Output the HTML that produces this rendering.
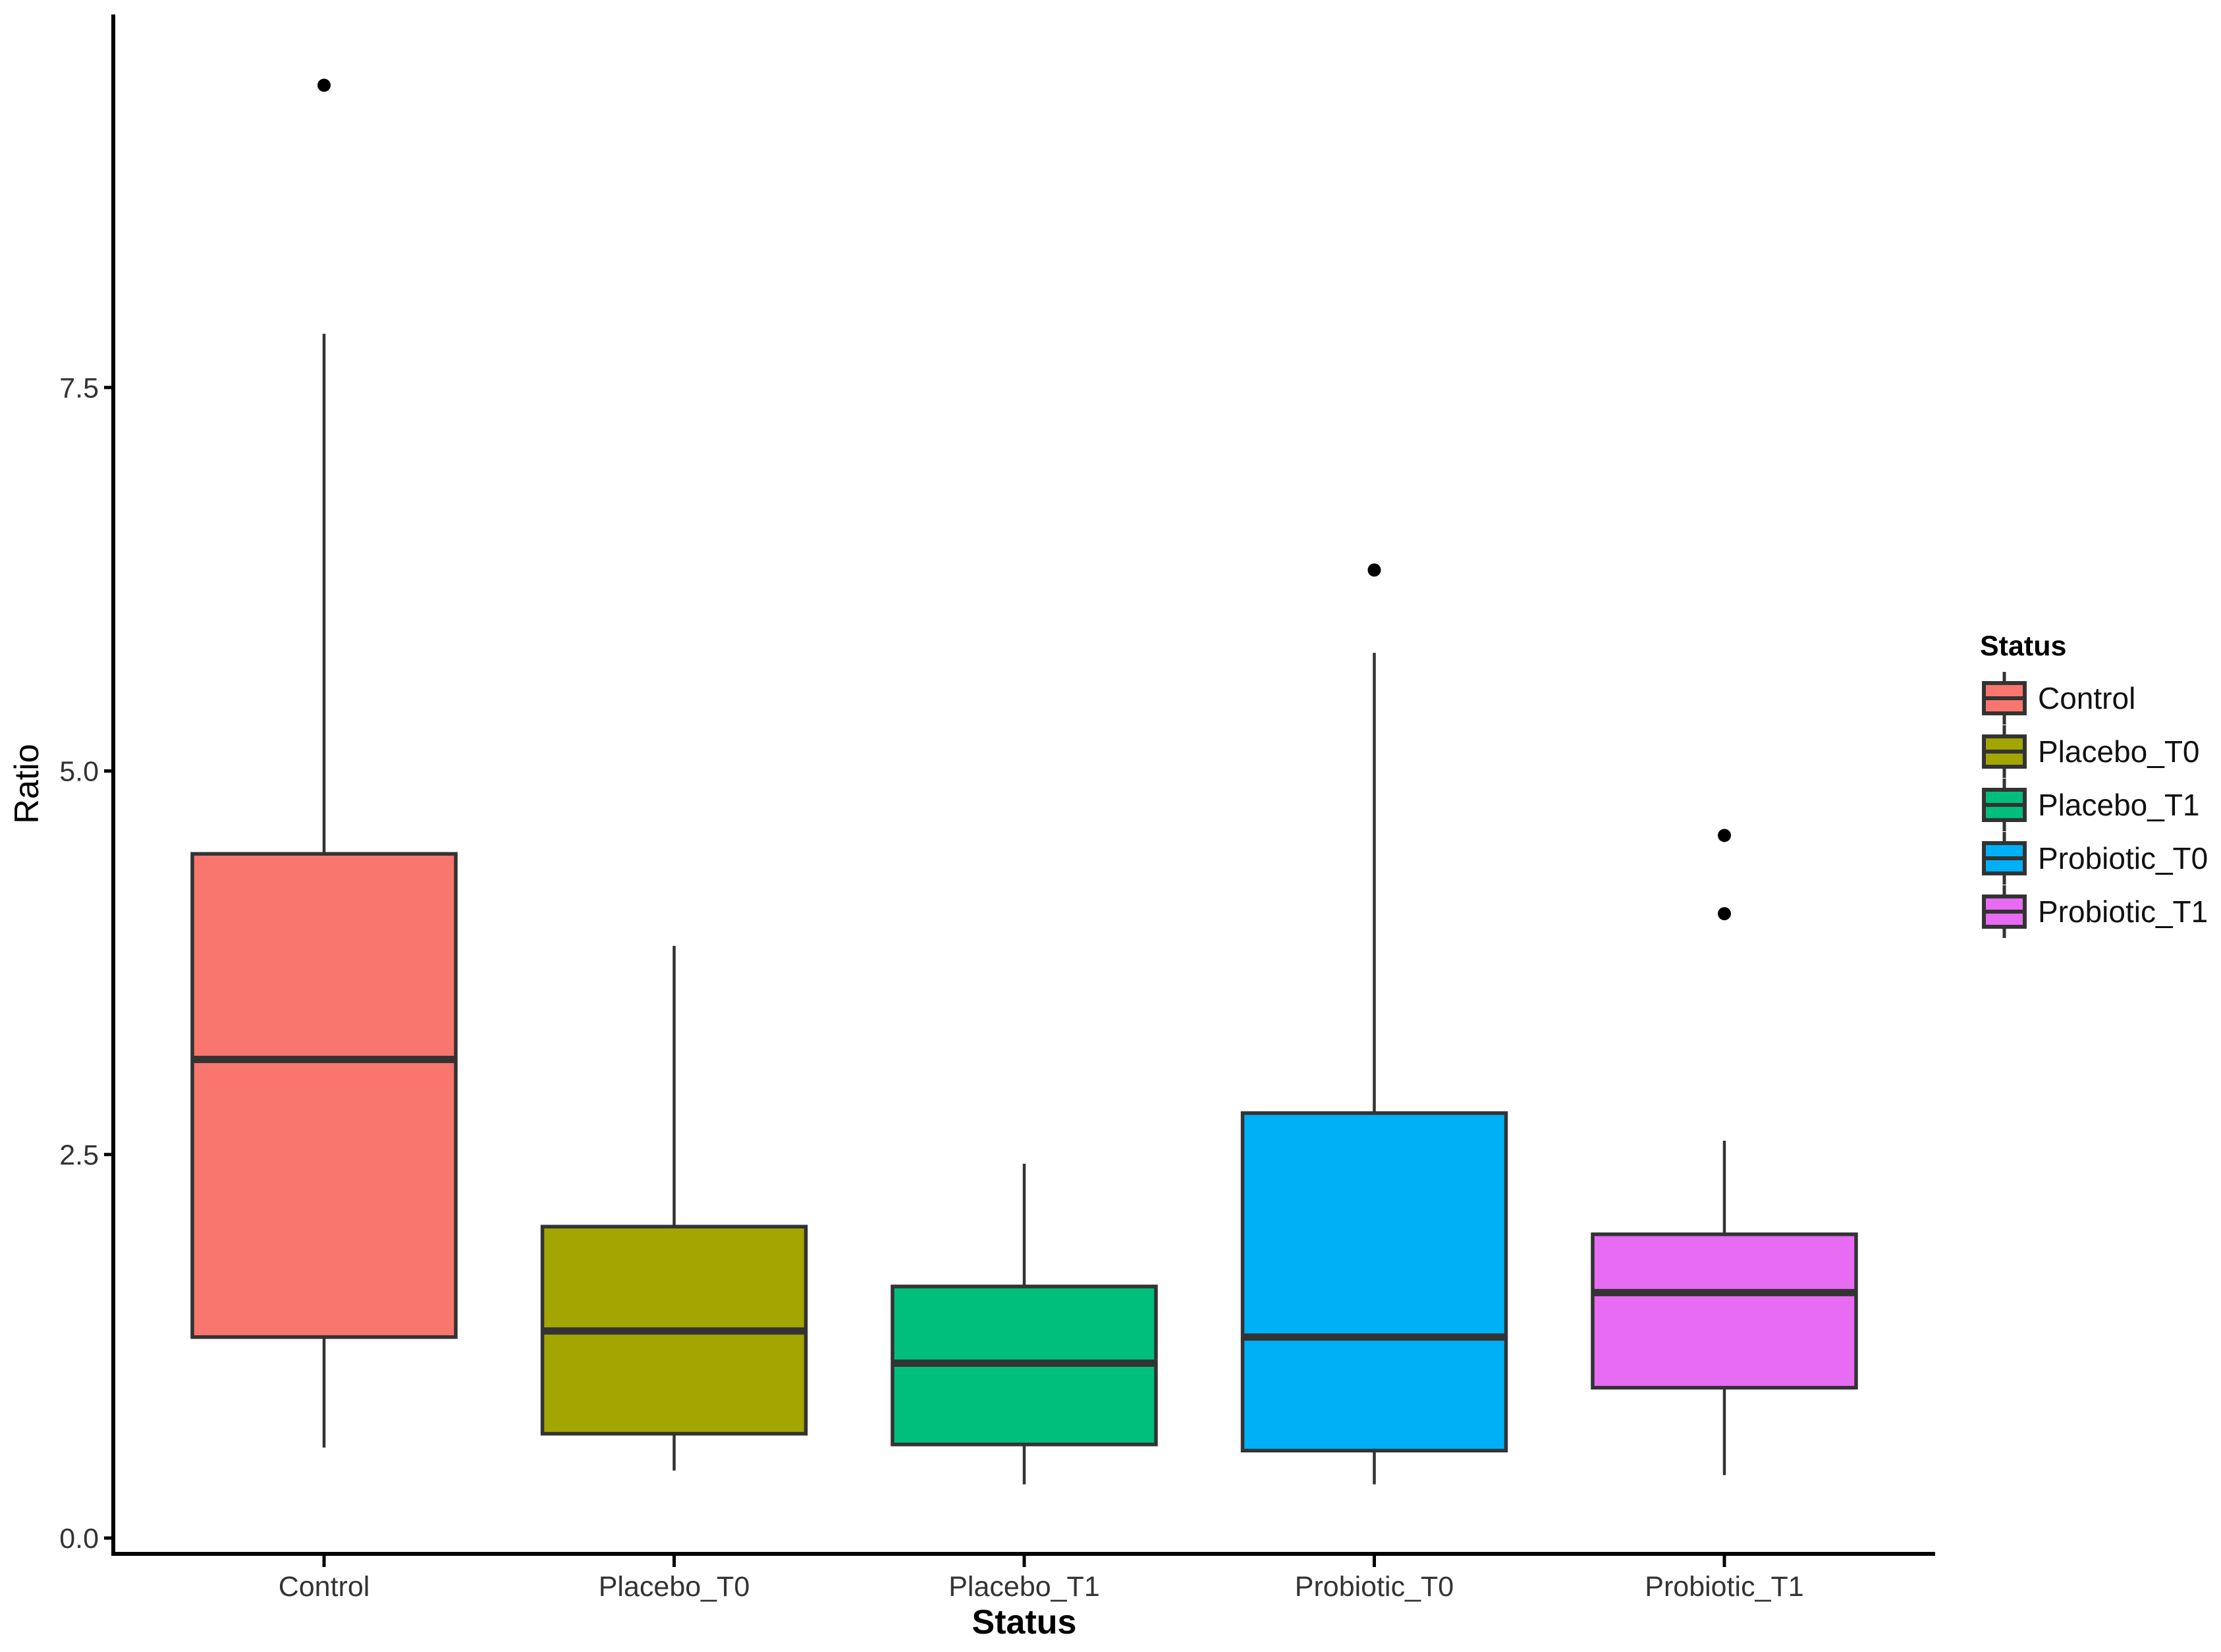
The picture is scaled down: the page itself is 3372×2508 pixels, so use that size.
<!DOCTYPE html>
<html><head><meta charset="utf-8"><style>
html,body{margin:0;padding:0;background:#fff;}
svg{display:block;font-family:"Liberation Sans",Arial,sans-serif;}
</style></head><body>
<svg id="chart" width="3372" height="2508" viewBox="0 0 3372 2508" xmlns="http://www.w3.org/2000/svg">
<g id="plot"></g>
<g id="yaxis"></g>
<g id="xaxis"></g>
<text x="1555" y="2480" font-size="52" font-weight="bold" text-anchor="middle" fill="#000">Status</text>
<text transform="translate(58,1190) rotate(-90)" font-size="52" text-anchor="middle" fill="#000">Ratio</text>
<g id="legend"></g>
</svg>
<script>
const categories = ["Control","Placebo_T0","Placebo_T1","Probiotic_T0","Probiotic_T1"];
const colors = ["#F8766D","#A3A500","#00BF7D","#00B0F6","#E76BF3"];
const whiskerLow = [0.59,0.44,0.35,0.35,0.41];
const q1 = [1.31,0.68,0.61,0.57,0.98];
const medians = [3.12,1.35,1.14,1.31,1.60];
const q3 = [4.46,2.03,1.64,2.77,1.98];
const whiskerHigh = [7.85,3.86,2.44,5.77,2.59];
const outliers = [[9.47],[],[],[6.31],[4.58,4.07]];
const yTicks = [0,2.5,5,7.5];
const yTickLabels = ["0.0","2.5","5.0","7.5"];

const NS="http://www.w3.org/2000/svg";
const plotLeft=172, plotRight=2938, plotTop=22, axisY=2359;
const y0=2335, pxPerUnit=232.9;
function yScale(v){return y0 - v*pxPerUnit;}
const bandStep=531.5;
function xScale(i){return 492 + i*bandStep;}
const boxW=400;
function mk(tag, attrs, parent){const e=document.createElementNS(NS,tag);for(const k in attrs)e.setAttribute(k,attrs[k]);parent.appendChild(e);return e;}

const plot=document.getElementById('plot');
categories.forEach((c,i)=>{
  const x=xScale(i);
  const g=mk('g',{},plot);
  
  
  const wu=mk('line',{x1:x,x2:x,y1:yScale(whiskerHigh[i]),y2:yScale(q3[i]),stroke:'#333',"stroke-width":4.5},g);
  
  
  const wl=mk('line',{x1:x,x2:x,y1:yScale(q1[i]),y2:yScale(whiskerLow[i]),stroke:'#333',"stroke-width":4.5},g);
  
  
  const r=mk('rect',{x:x-boxW/2,y:yScale(q3[i]),width:boxW,height:yScale(q1[i])-yScale(q3[i]),fill:colors[i],stroke:'#333',"stroke-width":5.5},g);
  
  
  const m=mk('line',{x1:x-boxW/2,x2:x+boxW/2,y1:yScale(medians[i]),y2:yScale(medians[i]),stroke:'#333',"stroke-width":11},g);
  
  
  outliers[i].forEach(v=>{
    const p=mk('circle',{cx:x,cy:yScale(v),r:10,fill:'#000'},g);
    
    
  });
});

const ya=document.getElementById('yaxis');
mk('line',{x1:plotLeft,x2:plotLeft,y1:plotTop,y2:axisY+3,stroke:'#000',"stroke-width":6},ya);
yTicks.forEach((v,i)=>{
  const t=mk('line',{x1:plotLeft-14,x2:plotLeft,y1:yScale(v),y2:yScale(v),stroke:'#000',"stroke-width":5},ya);
  
  
  const l=mk('text',{x:plotLeft-22,y:yScale(v)+15,"font-size":43,"text-anchor":"end",fill:'#333'},ya);
  l.textContent=yTickLabels[i];
  
  
});
const xa=document.getElementById('xaxis');
mk('line',{x1:plotLeft-3,x2:plotRight,y1:axisY,y2:axisY,stroke:'#000',"stroke-width":6},xa);
categories.forEach((c,i)=>{
  const x=xScale(i);
  const t=mk('line',{x1:x,x2:x,y1:axisY,y2:axisY+20,stroke:'#000',"stroke-width":5},xa);
  
  
  const l=mk('text',{x:x,y:2423,"font-size":43,"text-anchor":"middle",fill:'#333'},xa);
  l.textContent=c;
  
  
});

const lg=document.getElementById('legend');
const lt=mk('text',{x:3006,y:995,"font-size":43,"font-weight":"bold",fill:'#000'},lg);
lt.textContent='Status';


categories.forEach((c,i)=>{
  const cy=1060+i*81;
  const g=mk('g',{},lg);
  
  
  mk('line',{x1:3043,x2:3043,y1:cy-40,y2:cy+40,stroke:'#333',"stroke-width":5},g);
  mk('rect',{x:3012,y:cy-23,width:62,height:46,fill:colors[i],stroke:'#333',"stroke-width":6},g);
  mk('line',{x1:3012,x2:3074,y1:cy,y2:cy,stroke:'#333',"stroke-width":6},g);
  const l=mk('text',{x:3094,y:cy+16,"font-size":46,fill:'#111'},g);
  l.textContent=c;
});
</script>
</body></html>
